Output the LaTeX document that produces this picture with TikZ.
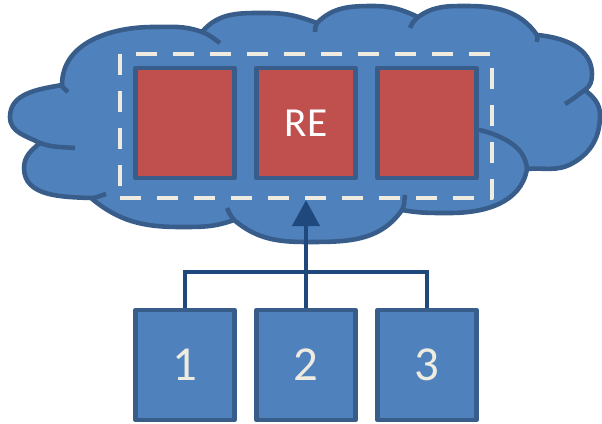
\documentclass[tikz,border=0pt]{standalone}
\usepackage{fontspec}
\setmainfont{Carlito}
\usetikzlibrary{arrows.meta}
\definecolor{cloudblue}{HTML}{4F81BD}
\definecolor{edgeblue}{HTML}{385D8A}
\definecolor{linkblue}{HTML}{1F497D}
\definecolor{rered}{HTML}{C0504D}
\definecolor{cream}{HTML}{EEECE1}
\tikzset{
  lobe/.style={draw=edgeblue,line width=2.6pt},
  rebox/.style={shape=rectangle,draw=edgeblue,fill=rered,line width=2.7pt,
    minimum width=1.98cm,minimum height=2.2cm,inner sep=0pt},
  srcbox/.style={shape=rectangle,draw=edgeblue,fill=cloudblue,line width=2.7pt,
    minimum width=1.98cm,minimum height=2.2cm,inner sep=0pt,
    text=cream,font=\fontsize{27.8}{33}\selectfont},
  link/.style={draw=linkblue,line width=2.6pt,line join=miter},
}
\begin{document}
\begin{tikzpicture}[x=0.02cm,y=0.02cm,line join=round]
  \useasboundingbox (0,0) rectangle (602,423);
  \filldraw[lobe,fill=cloudblue]
    (40,280) to[out=153,in=270] (10,306) to[out=90,in=190] (62,338)
    to[out=90,in=180] (153,396) to[out=0,in=160] (202,391)
    to[out=50,in=180] (267,410) to[out=0,in=160] (317,400)
    to[out=45,in=180] (373,417) to[out=0,in=155] (418,406)
    to[out=35,in=180] (467,417) to[out=0,in=125] (537,388)
    to[out=-5,in=90] (592,349) to[out=270,in=35] (585,333)
    to[out=-40,in=90] (600,308) to[out=270,in=30] (573,260) to[out=210,in=5] (527,254)
    to[out=260,in=0] (450,210) to[out=180,in=350] (402,213)
    to[out=235,in=0] (307,181) to[out=180,in=320] (234,203)
    to[out=200,in=0] (180,196) to[out=180,in=320] (91,225)
    to[out=178,in=270] (24,255) to[out=90,in=220] (40,280)
    -- cycle;
  \draw[lobe] (62,338) to[out=270,in=120] (68,331);
  \draw[lobe] (202,391) to[out=-20,in=145] (220,380);
  \draw[lobe] (317,400) to[out=235,in=85] (315,391);
  \draw[lobe] (418,406) to[out=225,in=70] (410,395);
  \draw[lobe] (537,388) to[out=290,in=90] (537,381);
  \draw[lobe] (585,333) to[out=215,in=30] (565,319);
  \draw[lobe] (527,254) to[out=95,in=-25] (500,286) to[out=155,in=-12] (460,297);
  \draw[lobe] (402,213) to[out=60,in=260] (405,228);
  \draw[lobe] (234,203) to[out=130,in=295] (227,215);
  \draw[lobe] (91,225) to[out=0,in=195] (106,229);
  \draw[lobe] (40,280) to[out=-20,in=175] (75,275);
  \node[shape=rectangle,draw=cream,line width=2.4pt,dash pattern=on 0.42cm off 0.32cm,
    minimum width=7.44cm,minimum height=2.88cm] (pool) at (306,297) {};
  \node[rebox] (re1) at (185,300) {};
  \node[rebox,text=white,font=\fontsize{23.5}{28}\selectfont] (re2) at (306,300) {RE};
  \node[rebox] (re3) at (427,300) {};
  \node[srcbox] (src1) at (185,58) {1};
  \node[srcbox] (src2) at (306,58) {2};
  \node[srcbox] (src3) at (427,58) {3};
  \coordinate (bus) at (306,151);
  \draw[link] (src1.north) |- (bus) -| (src3.north);
  \draw[link,-{Triangle[width=0.54cm,length=0.52cm]}] (src2.north) -- (pool.south);
\end{tikzpicture}
\end{document}
